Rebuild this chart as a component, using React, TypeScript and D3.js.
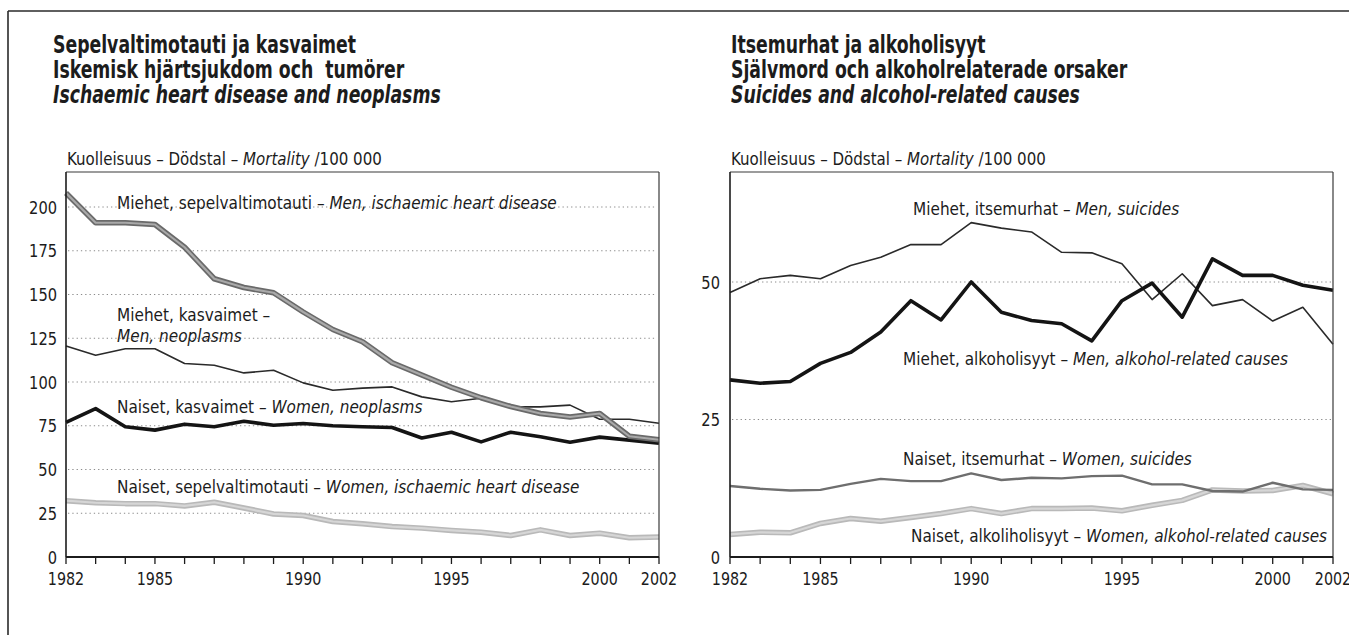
import React from 'react';
import * as d3 from 'd3';

// years on the x axis
const years = [1982, 1983, 1984, 1985, 1986, 1987, 1988, 1989, 1990, 1991, 1992, 1993, 1994, 1995, 1996, 1997, 1998, 1999, 2000, 2001, 2002];
const yearLabels = [1982, 1985, 1990, 1995, 2000, 2002];

// left panel: ischaemic heart disease and neoplasms, per 100 000
const menIHD = [208, 191, 191, 190, 177, 159, 154, 151, 140, 130, 123, 111, 104, 97, 91, 86, 82, 80, 82, 69, 67];
const menNeoplasms = [120.6, 115.3, 119, 119, 110.6, 109.6, 105.2, 106.7, 99.5, 95.3, 96.5, 97.2, 91.5, 88.7, 90.7, 85.8, 85.8, 86.8, 78.7, 78.7, 76.4];
const womenNeoplasms = [76.9, 84.8, 74.4, 72.5, 75.9, 74.4, 77.6, 75.3, 76.3, 75, 74.4, 74, 68, 71.3, 65.8, 71.3, 68.7, 65.6, 68.5, 66.8, 65];
const womenIHD = [32.2, 31, 30.5, 30.5, 29.2, 31.3, 28, 24.6, 23.7, 20.3, 19, 17.4, 16.5, 15.2, 14.2, 12.3, 15.5, 12.3, 13.6, 11, 11.4];
const leftTicks = [0, 25, 50, 75, 100, 125, 150, 175, 200];

// right panel: suicides and alcohol-related causes, per 100 000
const menSuicides = [48.1, 50.6, 51.2, 50.6, 53, 54.5, 56.8, 56.8, 60.8, 59.8, 59.1, 55.4, 55.3, 53.3, 46.8, 51.5, 45.7, 46.8, 42.9, 45.4, 38.7];
const menAlcohol = [32.2, 31.6, 31.9, 35.2, 37.2, 40.9, 46.6, 43.1, 50, 44.5, 43, 42.4, 39.3, 46.6, 49.8, 43.6, 54.2, 51.2, 51.2, 49.4, 48.5];
const womenSuicides = [12.9, 12.4, 12.1, 12.2, 13.3, 14.2, 13.8, 13.8, 15.2, 14, 14.4, 14.3, 14.7, 14.8, 13.2, 13.2, 12, 11.9, 13.5, 12.3, 12.2];
const womenAlcohol = [4.1, 4.5, 4.4, 6.1, 7, 6.5, 7.2, 7.9, 8.8, 7.9, 8.8, 8.8, 8.9, 8.4, 9.4, 10.3, 12.2, 12, 12.1, 13, 11.5];
const rightTicks = [0, 25, 50];

const FONT = "'Liberation Sans Narrow', 'Arial Narrow', 'DejaVu Sans Condensed', sans-serif";
const INK = '#1c1c1c';

// line looks
const styles = {
  darkDouble: [{ stroke: '#6a6a6a', width: 5.5 }, { stroke: '#a9a9a9', width: 2.2 }],
  lightDouble: [{ stroke: '#b9b9b9', width: 5.5 }, { stroke: '#d6d6d6', width: 2.2 }],
  thin: [{ stroke: '#2a2a2a', width: 1.6 }],
  thick: [{ stroke: '#141414', width: 3.6 }],
  gray: [{ stroke: '#6e6e6e', width: 2.4 }],
};

const PLOT_TOP = 172;
const PLOT_BOTTOM = 557;

// condensed text: the fallback font is wider than the original, squeeze it
function CText({ x, y, sx = 0.92, size = 18.5, anchor = 'start', children, ...rest }) {
  return (
    <text transform={`translate(${x},${y}) scale(${sx},1)`} fontSize={size}
      textAnchor={anchor} fill={INK} style={{ whiteSpace: 'pre' }} {...rest}>
      {children}
    </text>
  );
}

function Label({ x, y, normal, italic }) {
  return (
    <CText x={x} y={y}>
      {normal}
      {italic && <tspan fontStyle="italic">{italic}</tspan>}
    </CText>
  );
}

function Panel({ x0, x1, yMax, ticks, series, titles, titleX, labels, labelRight }) {
  const x = d3.scaleLinear().domain([1982, 2002]).range([x0, x1]);
  const y = d3.scaleLinear().domain([0, yMax]).range([PLOT_BOTTOM, PLOT_TOP]);
  const line = d3.line().x((d, i) => x(years[i])).y(d => y(d));

  return (
    <g fontFamily={FONT}>
      {titles.map((t, i) => (
        <CText key={i} x={titleX} y={53 + i * 25} size={24} sx={0.8} fontWeight="bold"
          fontStyle={i === 2 ? 'italic' : 'normal'}>{t}</CText>
      ))}
      <CText x={x0 + 1} y={165} size={18} sx={0.93}>
        Kuolleisuus – Dödstal – <tspan fontStyle="italic">Mortality</tspan> /100 000
      </CText>

      {/* dotted grid */}
      {ticks.filter(t => t > 0).map(t => (
        <line key={t} x1={x0 + 2} x2={x1 - 2} y1={y(t)} y2={y(t)}
          stroke="#8a8a8a" strokeWidth={1} strokeDasharray="1.3 3" />
      ))}
      {ticks.map(t => (
        <CText key={t} x={labelRight} y={y(t) + 6.5} sx={0.88} anchor="end">{t}</CText>
      ))}

      {series.map((s, i) => (
        <g key={i}>
          {styles[s.style].map((st, j) => (
            <path key={j} d={line(s.values)} fill="none" stroke={st.stroke}
              strokeWidth={st.width} strokeLinejoin="round" />
          ))}
        </g>
      ))}

      {labels.map((l, i) => <Label key={i} {...l} />)}

      {/* box and axes */}
      <line x1={x0} x2={x1} y1={PLOT_TOP} y2={PLOT_TOP} stroke="#3a3a3a" strokeWidth={1.2} />
      <line x1={x1} x2={x1} y1={PLOT_TOP} y2={PLOT_BOTTOM} stroke="#3a3a3a" strokeWidth={1.2} />
      <line x1={x0} x2={x0} y1={PLOT_TOP} y2={PLOT_BOTTOM} stroke={INK} strokeWidth={1.6} />
      <line x1={x0} x2={x1} y1={PLOT_BOTTOM} y2={PLOT_BOTTOM} stroke={INK} strokeWidth={1.8} />
      {years.map(yr => (
        <line key={yr} x1={x(yr)} x2={x(yr)} y1={PLOT_BOTTOM} y2={PLOT_BOTTOM + 7} stroke={INK} strokeWidth={1.3} />
      ))}
      {yearLabels.map(yr => (
        <CText key={yr} x={x(yr)} y={585} sx={0.86} anchor="middle">{yr}</CText>
      ))}
    </g>
  );
}

export default function App() {
  return (
    <div style={{ position: 'absolute', left: 0, top: 0, width: 1349, height: 635, background: '#fff' }}>
      <svg width={1349} height={635} style={{ display: 'block' }}>
        <rect width={1349} height={635} fill="#fff" />
        <line x1={8} x2={1349} y1={11} y2={11} stroke="#2a2a2a" strokeWidth={1.6} />
        <line x1={8} x2={8} y1={11} y2={635} stroke="#2a2a2a" strokeWidth={1.6} />

        <Panel
          x0={66} x1={659} yMax={220} ticks={leftTicks} labelRight={57}
          titleX={53}
          titles={['Sepelvaltimotauti ja kasvaimet', 'Iskemisk hjärtsjukdom och  tumörer', 'Ischaemic heart disease and neoplasms']}
          series={[
            { values: womenIHD, style: 'lightDouble' },
            { values: menNeoplasms, style: 'thin' },
            { values: womenNeoplasms, style: 'thick' },
            { values: menIHD, style: 'darkDouble' },
          ]}
          labels={[
            { x: 117, y: 209, normal: 'Miehet, sepelvaltimotauti – ', italic: 'Men, ischaemic heart disease' },
            { x: 117, y: 321, normal: 'Miehet, kasvaimet –' },
            { x: 117, y: 342, italic: 'Men, neoplasms' },
            { x: 117, y: 413, normal: 'Naiset, kasvaimet – ', italic: 'Women, neoplasms' },
            { x: 117, y: 493, normal: 'Naiset, sepelvaltimotauti – ', italic: 'Women, ischaemic heart disease' },
          ]}
        />

        <Panel
          x0={730} x1={1333} yMax={70} ticks={rightTicks} labelRight={720}
          titleX={731}
          titles={['Itsemurhat ja alkoholisyyt', 'Självmord och alkoholrelaterade orsaker', 'Suicides and alcohol-related causes']}
          series={[
            { values: womenAlcohol, style: 'lightDouble' },
            { values: womenSuicides, style: 'gray' },
            { values: menSuicides, style: 'thin' },
            { values: menAlcohol, style: 'thick' },
          ]}
          labels={[
            { x: 913, y: 215, normal: 'Miehet, itsemurhat – ', italic: 'Men, suicides' },
            { x: 903, y: 365, normal: 'Miehet, alkoholisyyt – ', italic: 'Men, alkohol-related causes' },
            { x: 903, y: 465, normal: 'Naiset, itsemurhat – ', italic: 'Women, suicides' },
            { x: 911, y: 542, normal: 'Naiset, alkoliholisyyt – ', italic: 'Women, alkohol-related causes' },
          ]}
        />
      </svg>
    </div>
  );
}
